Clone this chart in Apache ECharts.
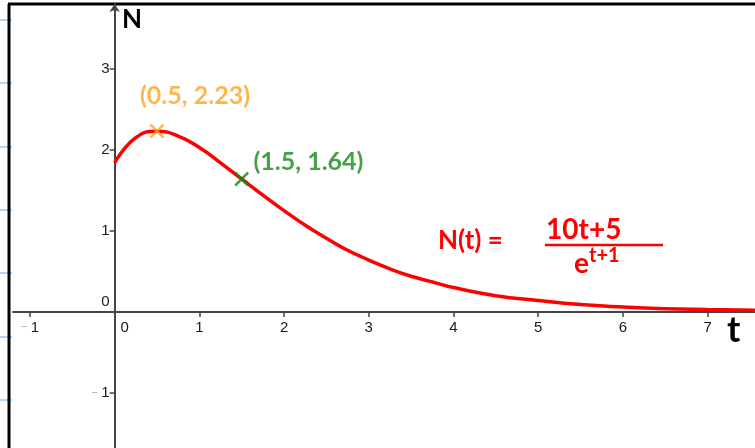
<!DOCTYPE html>
<html>
<head>
<meta charset="utf-8">
<script src="https://cdn.jsdelivr.net/npm/echarts@6/dist/echarts.min.js"></script>
<style>
  html, body { margin: 0; padding: 0; background: #fff; }
  #chart { width: 755px; height: 448px; }
</style>
</head>
<body>
<div id="chart"></div>
<script>
// curve N(t)
var tValues = [0, 0.25, 0.5, 0.75, 1, 1.25, 1.5, 1.75, 2, 2.25, 2.5, 2.75, 3, 3.25, 3.5, 3.75, 4, 4.5, 5, 5.5, 6, 6.5, 7, 7.6];
var nValues = [1.84, 2.15, 2.23, 2.17, 2.03, 1.84, 1.64, 1.44, 1.25, 1.07, 0.91, 0.76, 0.64, 0.53, 0.44, 0.37, 0.30, 0.20, 0.14, 0.09, 0.06, 0.04, 0.03, 0.02];

// the two marked points
var peakPoint = [0.5, 2.23];
var peakLabel = '(0.5, 2.23)';
var midPoint = [1.5, 1.64];
var midLabel = '(1.5, 1.64)';

var xTicks = [-1, 0, 1, 2, 3, 4, 5, 6, 7];
var yTicks = [-1, 0, 1, 2, 3];

var chart = echarts.init(document.getElementById('chart'));

var curveData = tValues.map(function (t, i) { return [t, nValues[i]]; });

var crossSymbol = 'path://M0,0L10,10M10,0L0,10';
var tickFont = 'Liberation Sans, Arial, sans-serif';

function tickRich() {
  return {
    n: { fontSize: 15, color: '#1a1a1a', fontFamily: tickFont },
    m: { fontSize: 11, color: '#aaa', fontFamily: tickFont },
    zx: { fontSize: 15, color: '#1a1a1a', fontFamily: tickFont, padding: [0, 0, 0, 20] },
    zy: { fontSize: 15, color: '#1a1a1a', fontFamily: tickFont, padding: [0, 0, 20, 0] }
  };
}

// left notebook marks outside the frame
var blueMarks = [20, 83, 147, 210, 273, 337, 400].map(function (y) {
  return {
    type: 'line',
    shape: { x1: 0, y1: y, x2: 12, y2: y },
    style: { stroke: '#9cc7f5', lineWidth: 1.5 },
    silent: true
  };
});

var handFont = 'Lato, Noto Sans, sans-serif';

var xMin = -1.2, xMax = 7.56, yMin = -1.68, yMax = 3.8;
var gridLeft = 13, gridTop = 4, gridW = 755 - 13, gridH = 448 - 4;
// place the axes through the origin with offsets
var yAxisOffset = -(0 - xMin) / (xMax - xMin) * gridW;
var xAxisOffset = -(0 - yMin) / (yMax - yMin) * gridH;

var option = {
  animation: false,
  backgroundColor: '#fff',
  grid: { left: gridLeft, right: 0, top: gridTop, bottom: 0, containLabel: false, outerBoundsMode: 'none' },
  xAxis: {
    type: 'value',
    min: xMin,
    max: xMax,
    position: 'bottom',
    offset: xAxisOffset,
    splitLine: { show: false },
    axisLine: { onZero: false, lineStyle: { color: '#444', width: 2 } },
    axisTick: { show: true, length: 5, customValues: xTicks, lineStyle: { color: '#444', width: 1.5 } },
    axisLabel: {
      customValues: xTicks,
      margin: 8,
      formatter: function (v) {
        if (v === 0) return '{zx|0}';
        if (v < 0) return '{m|−} {n|' + Math.abs(v) + '}';
        return '{n|' + v + '}';
      },
      rich: tickRich()
    }
  },
  yAxis: {
    type: 'value',
    min: yMin,
    max: yMax,
    position: 'left',
    offset: yAxisOffset,
    splitLine: { show: false },
    axisLine: {
      onZero: false,
      symbol: ['none', 'arrow'],
      symbolSize: [8, 8],
      lineStyle: { color: '#444', width: 2 }
    },
    axisTick: { show: true, length: 5, customValues: yTicks, lineStyle: { color: '#444', width: 1.5 } },
    axisLabel: {
      customValues: yTicks,
      margin: 5,
      formatter: function (v) {
        if (v === 0) return '{zy|0}';
        if (v < 0) return '{m|−} {n|' + Math.abs(v) + '}';
        return '{n|' + v + '}';
      },
      rich: tickRich()
    }
  },
  series: [
    {
      name: 'N(t)',
      type: 'line',
      data: curveData,
      smooth: true,
      showSymbol: false,
      lineStyle: { color: '#ff0000', width: 3.5 },
      z: 3
    },
    {
      name: 'peak',
      type: 'scatter',
      data: [peakPoint],
      symbol: crossSymbol,
      symbolSize: 13,
      itemStyle: { color: 'rgba(0,0,0,0)', borderColor: '#ffa21f', borderWidth: 2.5 },
      label: {
        show: true,
        position: 'top',
        offset: [38, -10],
        formatter: peakLabel,
        color: '#ffa21f',
        fontSize: 25,
        fontWeight: 'bold',
        fontFamily: handFont
      },
      z: 5
    },
    {
      name: 'mid',
      type: 'scatter',
      data: [midPoint],
      symbol: crossSymbol,
      symbolSize: 13,
      itemStyle: { color: 'rgba(0,0,0,0)', borderColor: '#168a16', borderWidth: 2.5 },
      label: {
        show: true,
        position: 'right',
        distance: 4,
        offset: [0, -17],
        formatter: midLabel,
        color: '#168a16',
        fontSize: 25,
        fontWeight: 'bold',
        fontFamily: handFont
      },
      z: 5
    }
  ],
  graphic: blueMarks.concat([
    // frame
    { type: 'line', shape: { x1: 9, y1: 4, x2: 9, y2: 448 }, style: { stroke: '#000', lineWidth: 3 }, silent: true },
    { type: 'line', shape: { x1: 8, y1: 4, x2: 755, y2: 4 }, style: { stroke: '#000', lineWidth: 3 }, silent: true },
    // axis names
    { type: 'text', left: 122, top: 7, style: { text: 'N', font: 'bold 26px ' + handFont, fill: '#000' } },
    { type: 'text', left: 727, top: 312, style: { text: 't', font: 'bold 36px ' + handFont, fill: '#000' } },
    // formula
    { type: 'text', left: 438, top: 228, style: { text: 'N(t) =', font: 'bold 26px ' + handFont, fill: '#ff0000' } },
    { type: 'text', left: 546, top: 216, style: { text: '10t+5', font: 'bold 28px ' + handFont, fill: '#ff0000' } },
    { type: 'line', shape: { x1: 545, y1: 245, x2: 663, y2: 245 }, style: { stroke: '#ff0000', lineWidth: 2.5 } },
    {
      type: 'text', left: 574, top: 246,
      style: {
        text: '{b|e}{s|t+1}',
        rich: {
          b: { font: 'bold 28px ' + handFont, fill: '#ff0000', color: '#ff0000', verticalAlign: 'bottom' },
          s: { font: 'bold 20px ' + handFont, fill: '#ff0000', color: '#ff0000', padding: [0, 0, 12, 0] }
        }
      }
    }
  ])
};

chart.setOption(option);
</script>
</body>
</html>
